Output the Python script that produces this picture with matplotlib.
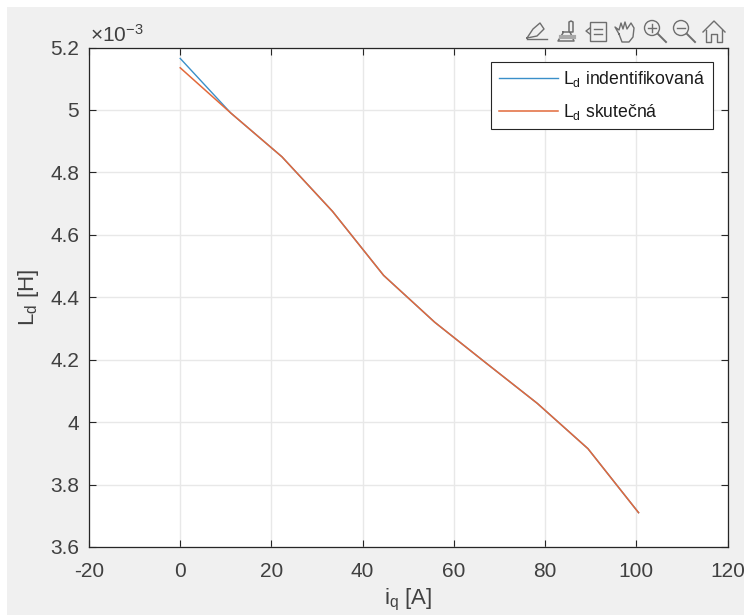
import numpy as np
import matplotlib
matplotlib.use('Agg')
import matplotlib.pyplot as plt
from matplotlib.patches import Rectangle, Circle

plt.rcParams['font.family'] = ['Liberation Sans', 'DejaVu Sans']
plt.rcParams['mathtext.fontset'] = 'custom'
plt.rcParams['mathtext.rm'] = 'Liberation Sans'
plt.rcParams['mathtext.default'] = 'rm'

# values
i_q = [0, 11.1, 22.3, 33.4, 44.6, 55.8, 67.0, 78.3, 89.4, 100.5]
ld_ident = [5.165e-3, 4.99e-3, 4.85e-3, 4.675e-3, 4.47e-3, 4.32e-3, 4.19e-3, 4.06e-3, 3.915e-3, 3.71e-3]
ld_real = [5.135e-3, 4.99e-3, 4.85e-3, 4.675e-3, 4.47e-3, 4.32e-3, 4.19e-3, 4.06e-3, 3.915e-3, 3.71e-3]
x_ticks = [-20, 0, 20, 40, 60, 80, 100, 120]
x_labels = ['-20', '0', '20', '40', '60', '80', '100', '120']
y_ticks = [3.6e-3, 3.8e-3, 4e-3, 4.2e-3, 4.4e-3, 4.6e-3, 4.8e-3, 5e-3, 5.2e-3]
y_labels = ['3.6', '3.8', '4', '4.2', '4.4', '4.6', '4.8', '5', '5.2']

W, H = 744, 615
fig = plt.figure(figsize=(W / 100, H / 100), dpi=100, facecolor='white')

# grey window behind the axes
fig.add_artist(Rectangle((7 / W, 0), 1 - 7 / W, 1 - 7 / H, transform=fig.transFigure,
                         facecolor='#f0f0f0', edgecolor='none', zorder=-5))

ax = fig.add_axes([89 / W, 1 - 547 / H, (727.5 - 89) / W, (547 - 47.5) / H])
ax.plot(i_q, ld_ident, color='#3a8fc9', lw=1.0, label=r'$\mathrm{L_d}$ indentifikovaná')
ax.plot(i_q, ld_real, color='#e2693b', lw=1.1, label=r'$\mathrm{L_d}$ skutečná')

ax.set_xlim(-20, 120)
ax.set_ylim(3.6e-3, 5.2e-3)
ax.set_xticks(x_ticks)
ax.set_xticklabels(x_labels)
ax.set_yticks(y_ticks)
ax.set_yticklabels(y_labels)
ax.grid(True, color='#e8e8e8', lw=1)
ax.set_axisbelow(True)
ax.tick_params(direction='in', length=5, width=0.8, color='#262626', labelcolor='#404040',
               labelsize=15, top=True, right=True)
ax.tick_params(axis='x', pad=11)
ax.tick_params(axis='y', pad=7)
for s in ax.spines.values():
    s.set_color('#262626')
    s.set_linewidth(0.9)

ax.set_xlabel(r'$\mathrm{i_q}$ [A]', fontsize=16, color='#404040', labelpad=4)
ax.set_ylabel(r'$\mathrm{L_d}$ [H]', fontsize=16, color='#404040', labelpad=7)
fig.text(90 / W, 1 - 42 / H, r'$\times\mathrm{10^{-3}}$', fontsize=15, color='#404040', va='baseline')

leg = ax.legend(loc='upper right', bbox_to_anchor=((712.5 - 89) / 638.5, 1 - (62 - 47.5) / 499.5),
                borderaxespad=0, fontsize=12.7, fancybox=False, framealpha=1, edgecolor='#262626',
                handlelength=3.35, handletextpad=0.3, labelspacing=0.7, borderpad=0.42)
leg.get_frame().set_linewidth(0.8)
for t in leg.get_texts():
    t.set_color('#1a1a1a')

# toolbar icons, roughly
tb = fig.add_axes([0, 0, 1, 1], facecolor='none')
tb.set_xlim(0, W)
tb.set_ylim(H, 0)
tb.axis('off')
c = '#6e6e6e'
tb.plot([527, 533, 540, 544, 537, 527], [38, 29, 23, 29, 36, 38], color=c, lw=1)
tb.plot([527, 547], [39, 39], color=c, lw=1)
tb.plot([563, 569, 569, 571, 573, 573, 570, 574, 558, 563, 563], [32, 32, 22, 21, 22, 32, 32, 41, 41, 33, 32], color=c, lw=1.1)
tb.plot([561, 574], [37, 37], color='#a8a8a8', lw=3)
tb.add_patch(Rectangle((590, 22), 16, 19, fill=False, edgecolor=c, lw=1))
tb.plot([594, 602], [29, 29], color=c, lw=1)
tb.plot([594, 602], [34, 34], color=c, lw=1)
tb.plot([590, 586, 590], [28, 31, 34], color=c, lw=1)
tb.plot([619, 615, 619, 621, 623, 625, 627, 631, 634, 633, 629, 622, 619],
        [34, 27, 30, 23, 29, 22, 29, 23, 28, 37, 42, 42, 34], color=c, lw=1)
for cx, plus in [(652, True), (681, False)]:
    tb.add_patch(Circle((cx, 28), 7.5, fill=False, edgecolor=c, lw=1))
    tb.plot([cx + 6, cx + 14], [34, 42], color=c, lw=1.4)
    tb.plot([cx - 4, cx + 4], [28, 28], color=c, lw=1)
    if plus:
        tb.plot([cx, cx], [24, 32], color=c, lw=1)
tb.plot([703, 714, 725], [32, 21, 32], color=c, lw=1)
tb.plot([706, 706, 711, 711, 717, 717, 722, 722], [30, 42, 42, 34, 34, 42, 42, 30], color=c, lw=1)

fig.savefig('out.png', dpi=100, facecolor='white')
